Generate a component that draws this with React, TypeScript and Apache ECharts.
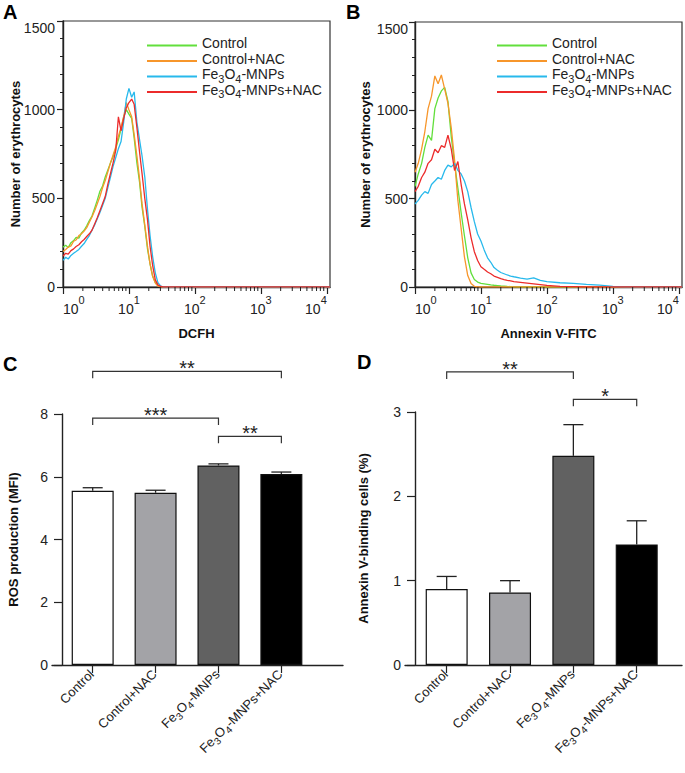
import React, { useEffect, useRef } from "react";
import * as echarts from "echarts";

const FONT = "'Liberation Sans', Arial, Helvetica, sans-serif";

const groupNames = ["Control", "Control+NAC", "Fe3O4-MNPs", "Fe3O4-MNPs+NAC"];
const lineColors = ["#62df3c", "#f7962b", "#28b9ec", "#ec2b2b"];
const barColors = ["#ffffff", "#a3a3a7", "#616161", "#000000"];

// Panel A: DCFH histogram (channel value -> number of erythrocytes)
const dcfhBins = [1.0, 1.1, 1.2, 1.32, 1.45, 1.58, 1.74, 1.91, 2.09, 2.29, 2.51, 2.75, 3.02, 3.31, 3.63, 3.98, 4.37, 4.79, 5.25, 5.75, 6.31, 6.92, 7.59, 8.32, 9.12, 10.0, 11.0, 12.0, 13.2, 14.5, 15.8, 17.4, 19.1, 20.9, 22.9, 25.1, 27.5, 30.2, 33.1, 50, 200, 1000, 5000, 11200];
const dcfhControl = [225, 235, 222, 250, 262, 280, 275, 305, 320, 345, 375, 400, 445, 490, 540, 570, 620, 660, 700, 735, 780, 830, 890, 960, 1000, 975, 950, 840, 700, 590, 450, 340, 215, 130, 60, 25, 8, 2, 0, 0, 0, 0, 0, 0];
const dcfhControlNac = [200, 212, 225, 232, 258, 265, 290, 300, 315, 335, 365, 395, 430, 470, 510, 560, 600, 650, 700, 745, 790, 850, 900, 960, 1040, 1000, 960, 860, 740, 610, 470, 350, 230, 130, 60, 22, 6, 1, 0, 0, 0, 0, 0, 0];
const dcfhFe = [150, 168, 158, 178, 190, 200, 212, 230, 245, 268, 290, 320, 350, 385, 420, 460, 500, 560, 620, 680, 730, 780, 820, 930, 1060, 1120, 1070, 1100, 930, 830, 740, 620, 440, 290, 170, 80, 25, 6, 0, 0, 0, 0, 0, 0];
const dcfhFeNac = [175, 190, 185, 205, 215, 228, 238, 255, 268, 285, 300, 320, 355, 390, 430, 470, 510, 580, 640, 700, 770, 960, 880, 950, 1010, 1040, 1060, 1030, 900, 760, 640, 500, 380, 230, 120, 40, 12, 3, 0, 0, 0, 0, 0, 0];

// Panel B: Annexin V-FITC histogram
const annexinBins = [1.0, 1.12, 1.26, 1.41, 1.58, 1.78, 2.0, 2.24, 2.51, 2.82, 3.16, 3.55, 3.98, 4.47, 5.01, 5.62, 6.31, 7.08, 7.94, 8.91, 10.0, 11.2, 12.6, 14.1, 15.8, 17.8, 20.0, 22.4, 25.1, 28.2, 31.6, 39.8, 50.1, 63.1, 79.4, 100, 158, 251, 398, 631, 1000, 1585, 11200];
const annexinControl = [570, 640, 700, 790, 860, 830, 1010, 1070, 1110, 1130, 1050, 850, 700, 560, 420, 290, 165, 80, 42, 28, 20, 18, 15, 12, 10, 8, 6, 5, 3, 2, 1, 0, 0, 0, 0, 0, 0, 0, 0, 0, 0, 0, 0];
const annexinControlNac = [650, 700, 780, 880, 1010, 1080, 1195, 1150, 1200, 1120, 1040, 900, 720, 490, 330, 170, 65, 20, 4, 0, 0, 0, 0, 0, 0, 0, 0, 0, 0, 0, 0, 0, 0, 0, 0, 0, 0, 0, 0, 0, 0, 0, 0];
const annexinFe = [470, 490, 520, 540, 530, 580, 600, 620, 610, 660, 690, 680, 700, 660, 640, 600, 540, 450, 370, 300, 260, 210, 165, 140, 110, 95, 82, 75, 68, 62, 58, 50, 45, 52, 38, 30, 24, 20, 15, 11, 3, 0, 0];
const annexinFeNac = [540, 570, 620, 650, 700, 720, 780, 760, 800, 790, 860, 780, 660, 710, 580, 470, 380, 280, 200, 150, 115, 100, 85, 75, 62, 55, 48, 42, 38, 35, 30, 26, 22, 18, 14, 9, 4, 2, 0, 0, 0, 0, 0];

const logMajorTicks = [1, 10, 100, 1000, 10000];
const logMinorTicks = [2, 3, 4, 5, 6, 7, 8, 9, 20, 30, 40, 50, 60, 70, 80, 90, 200, 300, 400, 500, 600, 700, 800, 900, 2000, 3000, 4000, 5000, 6000, 7000, 8000, 9000];

// Panel C: ROS production (MFI)
const rosMean = [5.55, 5.49, 6.36, 6.09];
const rosErr = [0.1, 0.08, 0.05, 0.06];
const rosBrackets = [[0, 3, 9.36], [0, 2, 7.87], [2, 3, 7.29]];
const rosStars = ["**", "***", "**"];

// Panel D: Annexin V-binding cells (%)
const annexinMean = [0.9, 0.86, 2.48, 1.43];
const annexinErr = [0.15, 0.14, 0.37, 0.28];
const annexinBrackets = [[0, 2, 3.475], [2, 3, 3.15]];
const annexinStars = ["**", "*"];

const categoryIndex = [0, 1, 2, 3];

function richName(name: string): string {
  if (name.startsWith("Fe3O4")) return "{n|Fe}{s|3}{n|O}{s|4}{n|" + name.slice(5) + "}";
  return "{n|" + name + "}";
}

const AX = "#222";

function histX(gridIndex: number, title: string) {
  return {
    type: "log",
    logBase: 10,
    gridIndex,
    min: 1,
    max: 11200,
    axisLine: { show: true, lineStyle: { color: AX, width: 1.4 } },
    axisTick: { show: true, customValues: logMajorTicks, length: 7, lineStyle: { color: AX, width: 1.2 } },
    axisLabel: {
      customValues: logMajorTicks,
      margin: 7,
      alignMinLabel: "left",
      alignMaxLabel: "right",
      formatter: (v: number) => "{b|10}{e|" + Math.round(Math.log10(v)) + "}",
      rich: {
        b: { fontSize: 14, verticalAlign: "bottom", color: "#222", fontFamily: FONT },
        e: { fontSize: 11, verticalAlign: "bottom", padding: [0, 0, 11, 0], color: "#222", fontFamily: FONT },
      },
    },
    splitLine: { show: false },
    name: title,
    nameLocation: "middle",
    nameGap: 40,
    nameMoveOverlap: false,
    nameTextStyle: { fontSize: 13, fontWeight: "bold", color: "#111", fontFamily: FONT },
  };
}

function histY(gridIndex: number, margin: number, gap: number) {
  return {
    type: "value",
    gridIndex,
    min: 0,
    max: 1500,
    interval: 500,
    axisLine: { show: true, lineStyle: { color: AX, width: 1.4 } },
    axisTick: { show: true, length: 6, lineStyle: { color: AX, width: 1.2 } },
    minorTick: { show: true, splitNumber: 5, length: 3, lineStyle: { color: AX, width: 1 } },
    axisLabel: {
      fontSize: 14,
      color: "#222",
      margin,
      fontFamily: FONT,
      verticalAlignMaxLabel: "top",
      formatter: (v: number) => String(v),
    },
    splitLine: { show: false },
    name: "Number of erythrocytes",
    nameLocation: "middle",
    nameGap: gap,
    nameMoveOverlap: false,
    nameTextStyle: { fontSize: 13, fontWeight: "bold", color: "#111", fontFamily: FONT },
  };
}

function barX(gridIndex: number, min: number, max: number) {
  return {
    type: "value",
    gridIndex,
    min,
    max,
    axisLine: { show: true, onZero: false, lineStyle: { color: AX, width: 1.4 } },
    axisTick: { show: true, customValues: categoryIndex, length: 8, lineStyle: { color: AX, width: 1.2 } },
    axisLabel: {
      customValues: categoryIndex,
      rotate: 45,
      margin: 8,
      formatter: (v: number) => richName(groupNames[Math.round(v)]),
      rich: {
        n: { fontSize: 13, verticalAlign: "bottom", padding: [0, 0, 3, 0], color: "#222", fontFamily: FONT },
        s: { fontSize: 10, verticalAlign: "bottom", color: "#222", fontFamily: FONT },
      },
    },
    splitLine: { show: false },
  };
}

function barY(gridIndex: number, max: number, interval: number, title: string, gap: number) {
  return {
    type: "value",
    gridIndex,
    min: 0,
    max,
    interval,
    offset: -10,
    axisLine: { show: true, onZero: false, lineStyle: { color: AX, width: 1.4 } },
    axisTick: { show: true, length: 8, lineStyle: { color: AX, width: 1.2 } },
    axisLabel: { fontSize: 14, color: "#222", margin: 14, fontFamily: FONT },
    splitLine: { show: false },
    name: title,
    nameLocation: "middle",
    nameGap: gap,
    nameMoveOverlap: false,
    nameTextStyle: { fontSize: 13, fontWeight: "bold", color: "#111", fontFamily: FONT },
  };
}

function histSeries(idx: number, bins: number[], sets: number[][]) {
  const order = [2, 3, 1, 0];
  return order.map((k) => ({
    type: "line",
    name: groupNames[k],
    xAxisIndex: idx,
    yAxisIndex: idx,
    data: bins.map((b, i) => [b, sets[k][i]]),
    symbol: "none",
    showSymbol: false,
    lineStyle: { color: lineColors[k], width: 1.3 },
    itemStyle: { color: lineColors[k] },
    z: 3 + k,
  }));
}

function minorTickSeries(idx: number) {
  return {
    type: "custom",
    xAxisIndex: idx,
    yAxisIndex: idx,
    silent: true,
    clip: false,
    z: 10,
    data: logMinorTicks.map((v) => [v, 0]),
    renderItem: (_p: any, api: any) => {
      const p = api.coord([api.value(0), 0]);
      return {
        type: "line",
        shape: { x1: p[0], y1: p[1], x2: p[0], y2: p[1] + 4 },
        style: { stroke: AX, lineWidth: 1 },
      };
    },
  };
}

function barSeries(idx: number, means: number[]) {
  return {
    type: "bar",
    xAxisIndex: idx,
    yAxisIndex: idx,
    barWidth: 42,
    data: means.map((m, i) => ({ value: [i, m], itemStyle: { color: barColors[i] } })),
    itemStyle: { borderColor: "#111", borderWidth: 1.2 },
    z: 2,
  };
}

function errSeries(idx: number, means: number[], errs: number[]) {
  return {
    type: "custom",
    xAxisIndex: idx,
    yAxisIndex: idx,
    silent: true,
    clip: false,
    z: 4,
    data: means.map((m, i) => [i, m, errs[i]]),
    renderItem: (_p: any, api: any) => {
      const x = api.value(0);
      const m = api.value(1);
      const e = api.value(2);
      const a = api.coord([x, m]);
      const b = api.coord([x, m + e]);
      return {
        type: "group",
        children: [
          { type: "line", shape: { x1: a[0], y1: a[1], x2: b[0], y2: b[1] }, style: { stroke: AX, lineWidth: 1.3 } },
          { type: "line", shape: { x1: b[0] - 10, y1: b[1], x2: b[0] + 10, y2: b[1] }, style: { stroke: AX, lineWidth: 1.3 } },
        ],
      };
    },
  };
}

function bracketSeries(idx: number, brackets: number[][], stars: string[]) {
  return {
    type: "custom",
    xAxisIndex: idx,
    yAxisIndex: idx,
    silent: true,
    clip: false,
    z: 5,
    data: brackets,
    renderItem: (params: any, api: any) => {
      const a = api.coord([api.value(0), api.value(2)]);
      const b = api.coord([api.value(1), api.value(2)]);
      return {
        type: "group",
        children: [
          {
            type: "polyline",
            shape: { points: [[a[0], a[1] + 7], [a[0], a[1]], [b[0], b[1]], [b[0], b[1] + 7]] },
            style: { stroke: "#333", lineWidth: 1.2, fill: "none" },
          },
          {
            type: "text",
            x: (a[0] + b[0]) / 2,
            y: a[1] - 3,
            style: {
              text: stars[params.dataIndex],
              fontSize: 20,
              fontFamily: FONT,
              fill: "#222",
              align: "center",
              verticalAlign: "middle",
              textAlign: "center",
              textVerticalAlign: "middle",
            },
          },
        ],
      };
    },
  };
}

function legendAt(left: number) {
  return {
    data: groupNames,
    left,
    top: 36,
    padding: 0,
    orient: "vertical",
    icon: "rect",
    itemWidth: 50,
    itemHeight: 2,
    itemGap: -1.5,
    selectedMode: false,
    formatter: (name: string) => richName(name),
    textStyle: {
      fontSize: 14,
      color: "#222",
      fontFamily: FONT,
      rich: {
        n: { fontSize: 14, lineHeight: 15, verticalAlign: "bottom", padding: [0, 0, 3, 0], color: "#222", fontFamily: FONT },
        s: { fontSize: 11, lineHeight: 15, verticalAlign: "bottom", color: "#222", fontFamily: FONT },
      },
    },
  };
}

function letter(t: string, x: number, y: number) {
  return {
    type: "text",
    x,
    y,
    style: { text: t, fontSize: 20, fontWeight: "bold", fontFamily: FONT, fill: "#000", textVerticalAlign: "middle", verticalAlign: "middle" },
  };
}

const option: any = {
  animation: false,
  backgroundColor: "#ffffff",
  textStyle: { fontFamily: FONT },
  grid: [
    { left: 63, top: 21, width: 267, height: 266, show: true, borderColor: "#333", borderWidth: 1.2, containLabel: false },
    { left: 415, top: 22, width: 267, height: 265, show: true, borderColor: "#333", borderWidth: 1.2, containLabel: false },
    { left: 52, top: 414, width: 291, height: 251, containLabel: false },
    { left: 405, top: 412, width: 277, height: 253, containLabel: false },
  ],
  xAxis: [histX(0, "DCFH"), histX(1, "Annexin V-FITC"), barX(2, -0.647, 3.98), barX(3, -0.658, 3.715)],
  yAxis: [
    histY(0, 8, 41),
    histY(1, 7, 43),
    barY(2, 8, 2, "ROS production (MFI)", 42),
    barY(3, 3, 1, "Annexin V-binding cells (%)", 45),
  ],
  legend: [legendAt(147), legendAt(497)],
  graphic: [letter("A", 3, 12), letter("B", 346, 12), letter("C", 3, 364), letter("D", 357, 362)],
  series: [
    ...histSeries(0, dcfhBins, [dcfhControl, dcfhControlNac, dcfhFe, dcfhFeNac]),
    minorTickSeries(0),
    ...histSeries(1, annexinBins, [annexinControl, annexinControlNac, annexinFe, annexinFeNac]),
    minorTickSeries(1),
    barSeries(2, rosMean),
    errSeries(2, rosMean, rosErr),
    bracketSeries(2, rosBrackets, rosStars),
    barSeries(3, annexinMean),
    errSeries(3, annexinMean, annexinErr),
    bracketSeries(3, annexinBrackets, annexinStars),
  ],
};

export default function App() {
  const ref = useRef<HTMLDivElement>(null);
  useEffect(() => {
    const chart = echarts.init(ref.current as HTMLDivElement, null, { renderer: "svg" });
    chart.setOption(option);
    return () => chart.dispose();
  }, []);
  return (
    <div
      ref={ref}
      style={{ position: "absolute", left: 0, top: 0, width: 685, height: 773, background: "#fff" }}
    />
  );
}
